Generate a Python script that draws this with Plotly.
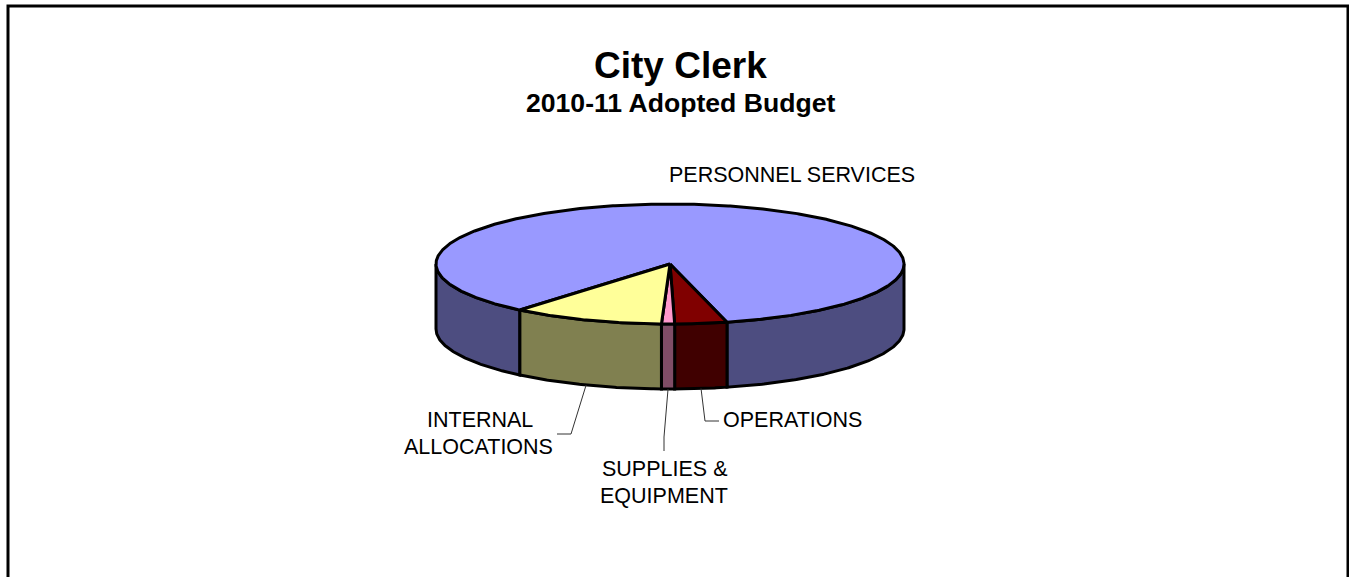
import numpy as np
import plotly.graph_objects as go

# Budget shares, in percent, listed clockwise from the start of the personnel slice
categories = ["PERSONNEL SERVICES", "OPERATIONS", "SUPPLIES & EQUIPMENT", "INTERNAL ALLOCATIONS"]
shares = [85.0, 3.6, 0.9, 10.5]
top_colors = ["#9999FF", "#800000", "#FF99CC", "#FFFF99"]
side_colors = ["#4D4D80", "#400000", "#804D66", "#808050"]

title_text = "City Clerk"
subtitle_text = "2010-11 Adopted Budget"

# Text lines for each slice label: (text, x centre, y centre)
label_lines = [
    ("PERSONNEL SERVICES", 791.5, 175),
    ("OPERATIONS", 792, 420),
    ("SUPPLIES &", 664.5, 469),
    ("EQUIPMENT", 664, 495.5),
    ("INTERNAL", 479.5, 420),
    ("ALLOCATIONS", 478.5, 446.5),
]
# Elbow and end of the leader line of each slice, keyed by category index
leaders = {
    1: [(705, 421), (719, 421)],
    2: [(664, 437), (664, 451)],
    3: [(571, 434), (557, 434)],
}

# Pie projection in pixel space
CX, CY, RX, RY, DEPTH = 670, 264, 234, 60, 65
START_DEG = 129.9
EDGE = 3


def arc(a0, a1, drop=0):
    t = np.radians(np.linspace(a0, a1, max(2, int(abs(a1 - a0) * 2) + 1)))
    return CX + RX * np.cos(t), CY + drop + RY * np.sin(t)


fig = go.Figure()


def polygon(xs, ys, fill):
    fig.add_trace(go.Scatter(
        x=xs, y=ys, mode="lines", fill="toself", fillcolor=fill,
        line=dict(color="#000000", width=EDGE), hoverinfo="skip", showlegend=False,
    ))


# Slice boundaries in degrees, clockwise on screen
sweeps = np.array(shares) / sum(shares) * 360
ends = START_DEG + np.cumsum(sweeps)
starts = ends - sweeps

# Rim: only the part of each slice that faces the viewer (0-180 degrees, modulo a turn)
for a0, a1, side in zip(starts, ends, side_colors):
    for shift in (0, 360):
        lo, hi = max(a0, shift), min(a1, shift + 180)
        if hi > lo:
            x_up, y_up = arc(lo, hi)
            x_dn, y_dn = arc(hi, lo, DEPTH)
            polygon(np.r_[x_up, x_dn, x_up[0]], np.r_[y_up, y_dn, y_up[0]], side)

# Top face
for a0, a1, top in zip(starts, ends, top_colors):
    xs, ys = arc(a0, a1)
    polygon(np.r_[CX, xs, CX], np.r_[CY, ys, CY], top)

# Leader lines run from the rim at each slice's mid-angle
for idx, pts in leaders.items():
    mid = (starts[idx] + ends[idx]) / 2
    x0, y0 = arc(mid, mid, DEPTH)
    fig.add_trace(go.Scatter(
        x=[x0[0]] + [p[0] for p in pts], y=[y0[0]] + [p[1] for p in pts],
        mode="lines", line=dict(color="#333333", width=1),
        hoverinfo="skip", showlegend=False,
    ))

FONT = "Liberation Sans, Arial, sans-serif"
annotations = [
    dict(x=x, y=y, text=text, showarrow=False, xanchor="center", yanchor="middle",
         font=dict(family=FONT, size=21.5, color="#000000"))
    for text, x, y in label_lines
]
annotations += [
    dict(x=680, y=65, text=f"<b>{title_text}</b>", showarrow=False, xanchor="center",
         yanchor="middle", font=dict(family=FONT, size=37, color="#000000")),
    dict(x=680, y=103, text=f"<b>{subtitle_text}</b>", showarrow=False, xanchor="center",
         yanchor="middle", font=dict(family=FONT, size=26.6, color="#000000")),
]

fig.update_layout(
    width=1349, height=577, margin=dict(l=0, r=0, t=0, b=0),
    paper_bgcolor="#FFFFFF", plot_bgcolor="#FFFFFF", showlegend=False,
    xaxis=dict(range=[0, 1349], visible=False, fixedrange=True),
    yaxis=dict(range=[577, 0], visible=False, fixedrange=True),
    annotations=annotations,
    shapes=[dict(type="rect", xref="x", yref="y", x0=8, y0=6, x1=1348, y1=620,
                 line=dict(color="#000000", width=3), fillcolor="rgba(0,0,0,0)", layer="below")],
)

fig.write_html("out.html", config={"displayModeBar": False})
